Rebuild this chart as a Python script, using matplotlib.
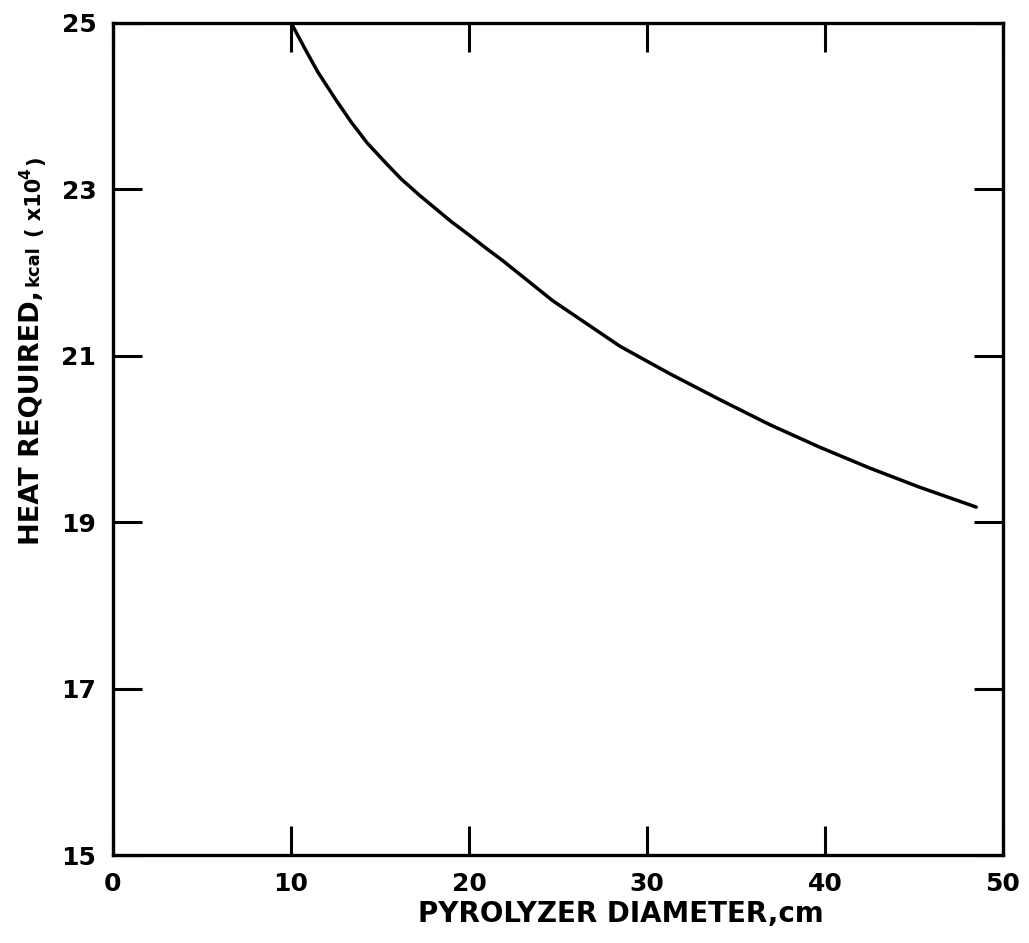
import matplotlib
matplotlib.use("Agg")
import matplotlib.pyplot as plt

# Heat demand of the pyrolyzer versus its diameter
diameter_cm = [10.0, 10.8, 11.5, 12.5, 13.4, 14.3, 15.3, 16.2, 17.2, 18.1,
               19.0, 20.0, 20.9, 21.9, 24.7, 28.5, 31.3, 34.1, 36.9, 39.7,
               42.5, 45.3, 48.5]
heat_kcal = [25.0, 24.68, 24.41, 24.08, 23.80, 23.55, 23.32, 23.12, 22.93, 22.77,
             22.61, 22.45, 22.30, 22.14, 21.66, 21.11, 20.78, 20.47, 20.17, 19.90,
             19.65, 19.42, 19.18]

x_ticks = [0, 10, 20, 30, 40, 50]
x_ticklabels = ["0", "10", "20", "30", "40", "50"]
y_ticks = [15, 17, 19, 21, 23, 25]
y_ticklabels = ["15", "17", "19", "21", "23", "25"]

plt.rcParams["font.family"] = ["DejaVu Sans"]
plt.rcParams["font.weight"] = "bold"

fig = plt.figure(figsize=(10.29, 9.43), dpi=100)
ax = fig.add_axes([0.1098, 0.0933, 0.8649, 0.8827])

ax.plot(diameter_cm, heat_kcal, color="black", lw=2.5,
        solid_capstyle="round", solid_joinstyle="round")

ax.set_xlim(0, 50)
ax.set_ylim(15, 25)
ax.set_xticks(x_ticks)
ax.set_xticklabels(x_ticklabels)
ax.set_yticks(y_ticks)
ax.set_yticklabels(y_ticklabels)

for sp in ax.spines.values():
    sp.set_linewidth(2.4)

ax.tick_params(axis="both", direction="in", length=21, width=2.2,
               top=True, right=True, labelsize=18)
ax.tick_params(axis="x", pad=12)
ax.tick_params(axis="y", pad=12)

# x-axis title
fig.text(0.603, 0.016, "PYROLYZER DIAMETER,cm", ha="center", va="bottom",
         fontsize=20, fontweight="bold")

# y-axis title assembled from pieces of different sizes
t1 = fig.text(0.031, 0.422, "HEAT REQUIRED,", rotation=90, ha="center",
              va="bottom", fontsize=19.5, fontweight="bold")
t2 = ax.annotate("kcal", xy=(1, 1), xycoords=t1, xytext=(-2, 3),
                 textcoords="offset points", rotation=90, ha="right",
                 va="bottom", fontsize=13, fontweight="bold",
                 annotation_clip=False)
t3 = ax.annotate("( x10", xy=(1, 1), xycoords=t2, xytext=(2, 6),
                 textcoords="offset points", rotation=90, ha="right",
                 va="bottom", fontsize=15, fontweight="bold",
                 annotation_clip=False)
t4 = ax.annotate("4", xy=(0, 1), xycoords=t3, xytext=(1, -1),
                 textcoords="offset points", rotation=90, ha="center",
                 va="bottom", fontsize=11, fontweight="bold",
                 annotation_clip=False)
t5 = ax.annotate(")", xy=(1, 1), xycoords=t3, xytext=(0, 9),
                 textcoords="offset points", rotation=90, ha="right",
                 va="bottom", fontsize=15, fontweight="bold",
                 annotation_clip=False)

fig.savefig("out.png", dpi=100, facecolor="white")
